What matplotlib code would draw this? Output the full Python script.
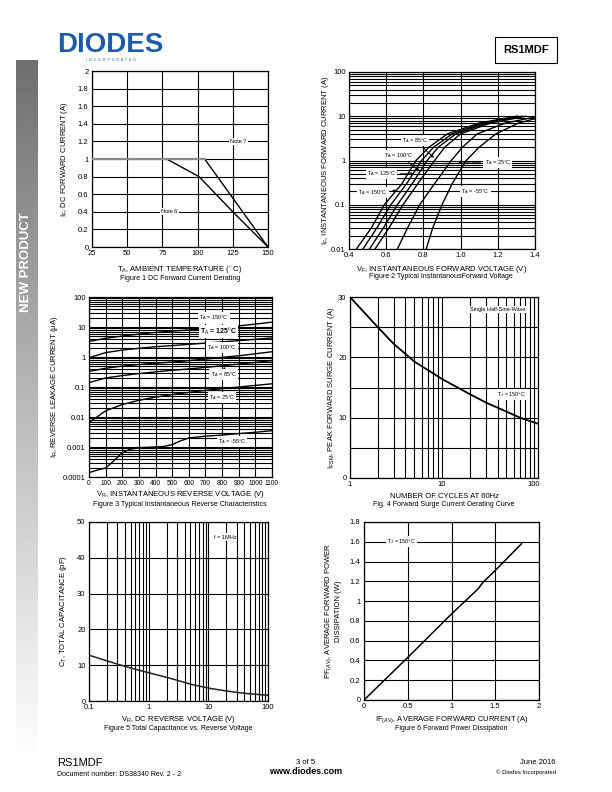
import matplotlib
matplotlib.use('Agg')
import matplotlib.pyplot as plt
import matplotlib.ticker as ticker
import numpy as np

plt.rcParams.update({
  'font.family'      : ['Liberation Sans', 'DejaVu Sans'],
  'font.size'        : 5.5,
  'mathtext.fontset' : 'custom',
  'mathtext.rm'      : 'Liberation Sans',
  'mathtext.it'      : 'Liberation Sans',
  'axes.linewidth'   : 0.9,
  'xtick.major.size' : 0,
  'ytick.major.size' : 0,
  'xtick.minor.size' : 0,
  'ytick.minor.size' : 0,
  'xtick.major.pad'  : 2.5,
  'ytick.major.pad'  : 2.5,
  'xtick.labelsize'  : 5.5,
  'ytick.labelsize'  : 5.5,
})

# ---- Figure 1 : DC forward current derating
note6_temp = [25, 78, 101, 125, 150]
note6_curr = [1.0, 1.0, 0.8, 0.4, 0.0]
note7_temp = [25, 105, 150]
note7_curr = [1.0, 1.0, 0.0]

# ---- Figure 2 : forward characteristics (A vs V)
if_pts  = [0.01, 0.03, 0.1, 0.3, 1, 2, 4, 7, 10]
vf_150  = [0.44, 0.52, 0.59, 0.685, 0.76, 0.83, 0.93, 1.10, 1.30]
vf_125  = [0.475, 0.55, 0.625, 0.71, 0.79, 0.855, 0.955, 1.12, 1.31]
vf_100  = [0.51, 0.585, 0.66, 0.74, 0.82, 0.88, 0.975, 1.14, 1.33]
vf_85   = [0.54, 0.615, 0.69, 0.77, 0.86, 0.915, 1.00, 1.16, 1.35]
vf_25   = [0.66, 0.715, 0.78, 0.86, 0.95, 1.01, 1.09, 1.24, 1.42]
vf_m55  = [0.815, 0.85, 0.90, 0.955, 1.03, 1.10, 1.19, 1.31, 1.45]

# ---- Figure 3 : reverse leakage (uA vs V)
vr_pts  = [0, 100, 200, 300, 400, 500, 600, 700, 800, 900, 1000, 1100]
ir_150  = [3.3, 4.2, 5.0, 5.8, 6.6, 7.3, 8.0, 8.8, 9.7, 10.9, 12.5, 14.5]
ir_125  = [0.95, 1.4, 1.7, 1.95, 2.2, 2.4, 2.65, 2.9, 3.2, 3.5, 3.9, 4.3]
ir_100  = [0.33, 0.42, 0.5, 0.56, 0.62, 0.68, 0.76, 0.85, 0.97, 1.1, 1.28, 1.5]
ir_85   = [0.14, 0.2, 0.24, 0.28, 0.32, 0.36, 0.4, 0.45, 0.51, 0.58, 0.66, 0.76]
ir_25   = [0.0065, 0.016, 0.026, 0.036, 0.046, 0.056, 0.066, 0.077, 0.088, 0.1, 0.113, 0.128]
vr_m55  = [0, 50, 100, 150, 200, 250, 300, 400, 450, 500, 550, 600, 700, 800, 900, 1000, 1100]
ir_m55  = [0.00014, 0.00017, 0.0002, 0.00035, 0.00065, 0.00085, 0.00095, 0.001, 0.00105,
           0.0012, 0.0016, 0.002, 0.0023, 0.0025, 0.0028, 0.0031, 0.0035]

# ---- Figure 4 : surge current derating
cycles   = [1, 2, 3, 5, 10, 20, 30, 50, 70, 100, 110]
ifsm     = [30, 25, 22.2, 19.3, 16.4, 13.9, 12.5, 11.0, 10.0, 9.2, 9.0]

# ---- Figure 5 : capacitance
vr_cap   = [0.1, 0.2, 0.3, 0.5, 1, 2, 3, 5, 10, 20, 30, 50, 100]
cap_pf   = [12.8, 11.2, 10.3, 9.2, 7.9, 6.6, 5.8, 4.7, 3.6, 2.8, 2.4, 2.0, 1.6]

# ---- Figure 6 : power dissipation
if_av    = [0, 0.5, 1.0, 1.3, 1.36, 1.5, 1.8]
pf_av    = [0, 0.43, 0.87, 1.12, 1.19, 1.31, 1.58]

W, H = 612, 792
fig = plt.figure(figsize=(W/100, H/100), dpi=100)

def px_axes(l, t, r, b):
  return fig.add_axes([l/W, 1 - b/H, (r - l)/W, (b - t)/H])

def ftext(x, y, s, **kw):
  fig.text(x/W, 1 - y/H, s, **kw)

box = dict(facecolor='white', edgecolor='none', pad=0.8)
gkw = dict(color='k', linewidth=0.8)

# side bar gradient
axg = px_axes(16, 60, 37, 752)
grad = np.linspace(0.35, 0.99, 300) ** 0.8
axg.imshow(grad[:, None], cmap='gray', vmin=0, vmax=1, aspect='auto')
axg.axis('off')
ftext(26.5, 262, 'NEW PRODUCT', rotation=90, color='white', fontsize=9.5,
      weight='bold', ha='center', va='center')

# header
ftext(57, 45, 'DIODES', fontsize=20, weight='bold', color='#1d5ba8',
      ha='left', va='center')
ftext(111, 60, 'I  N  C  O  R  P  O  R  A  T  E  D', fontsize=2.6, color='#1d5ba8',
      ha='center', va='center')
ftext(526, 50, 'RS1MDF', fontsize=8, weight='bold', ha='center', va='center',
      bbox=dict(facecolor='white', edgecolor='black', linewidth=0.8, boxstyle='square,pad=0.7'))

# ---------------- Figure 1
ax1 = px_axes(92, 71, 268, 247)
ax1.plot(note6_temp, note6_curr, color='k', lw=1.0, zorder=3)
ax1.plot(note7_temp, note7_curr, color='k', lw=1.0, zorder=3)
ax1.plot(note7_temp[:2], note7_curr[:2], color='#8a8a8a', lw=1.6, zorder=4)
ax1.set_xlim(25, 150)
ax1.set_ylim(0, 2)
ax1.set_xticks([25, 50, 75, 100, 125, 150])
ax1.set_yticks(np.arange(0, 2.01, 0.2))
ax1.set_yticklabels(['0', '0.2', '0.4', '0.6', '0.8', '1', '1.2', '1.4', '1.6', '1.8', '2'])
ax1.grid(True, **gkw)
ax1.text(129, 1.2, 'Note 7', fontsize=4, ha='center', va='center', bbox=box, zorder=5)
ax1.text(80, 0.4, 'Note 6', fontsize=4, ha='center', va='center', bbox=box, zorder=5)
ax1.set_xlabel(r'T$_{\mathrm{A}}$, AMBIENT TEMPERATURE ($^\circ$C)', labelpad=5)
ax1.set_ylabel(r'I$_{\mathrm{F}}$, DC FORWARD CURRENT (A)', labelpad=6)
ftext(180, 278, 'Figure 1 DC Forward Current Derating', ha='center', va='center', fontsize=5)

# ---------------- Figure 2
ax2 = px_axes(349, 72, 535, 249)
for v in [vf_150, vf_125, vf_100, vf_85, vf_25, vf_m55]:
  ax2.plot(v, if_pts, color='k', lw=1.0, zorder=3)
ax2.set_yscale('log')
ax2.set_xlim(0.4, 1.4)
ax2.set_ylim(0.01, 100)
ax2.set_xticks([0.4, 0.6, 0.8, 1.0, 1.2, 1.4])
ax2.set_yticks([0.01, 0.1, 1, 10, 100])
ax2.set_yticklabels(['0.01', '0.1', '1', '10', '100'])
ax2.yaxis.set_minor_locator(ticker.LogLocator(base=10, subs=range(2, 10)))
ax2.yaxis.set_minor_formatter(ticker.NullFormatter())
ax2.grid(True, which='major', **gkw)
ax2.grid(True, which='minor', axis='y', **gkw)
akw = dict(arrowstyle='-|>', color='k', lw=0.7, mutation_scale=4)
ax2.annotate(r'T$_{\mathrm{A}}$ = 85$\degree$C', xy=(0.868, 1.05), xytext=(0.755, 2.85),
             fontsize=4, ha='center', va='center', bbox=box, arrowprops=akw, zorder=5)
ax2.annotate(r'T$_{\mathrm{A}}$ = 100$\degree$C', xy=(0.79, 0.56), xytext=(0.665, 1.3),
             fontsize=4, ha='center', va='center', bbox=box, arrowprops=akw, zorder=5)
ax2.annotate(r'T$_{\mathrm{A}}$ = 125$\degree$C', xy=(0.765, 0.5), xytext=(0.575, 0.5),
             fontsize=4, ha='center', va='center', bbox=box, arrowprops=akw, zorder=5)
ax2.annotate(r'T$_{\mathrm{A}}$ = 150$\degree$C', xy=(0.674, 0.21), xytext=(0.53, 0.19),
             fontsize=4, ha='center', va='center', bbox=box, arrowprops=akw, zorder=5)
ax2.annotate(r'T$_{\mathrm{A}}$ = 25$\degree$C', xy=(0.97, 0.93), xytext=(1.2, 0.91),
             fontsize=4, ha='center', va='center', bbox=box, arrowprops=akw, zorder=5)
ax2.text(1.08, 0.2, r'T$_{\mathrm{A}}$ = -55$\degree$C', fontsize=4, ha='center', va='center',
         bbox=box, zorder=5)
ax2.set_xlabel(r'V$_{\mathrm{F}}$, INSTANTANEOUS FORWARD VOLTAGE (V)', labelpad=3)
ax2.set_ylabel(r'I$_{\mathrm{F}}$, INSTANTANEOUS FORWARD CURRENT (A)', labelpad=0)
ftext(441, 277, 'Figure 2 Typical InstantanousForward Voltage', ha='center', va='center', fontsize=5)

# ---------------- Figure 3
ax3 = px_axes(89, 297, 272, 477)
for ir in [ir_150, ir_125, ir_100, ir_85, ir_25]:
  ax3.plot(vr_pts, ir, color='k', lw=1.0, zorder=3)
ax3.plot(vr_m55, ir_m55, color='k', lw=1.0, zorder=3)
ax3.set_yscale('log')
ax3.set_xlim(0, 1100)
ax3.set_ylim(0.0001, 100)
ax3.set_xticks(range(0, 1101, 100))
ax3.tick_params(axis='x', labelsize=4.8)
ax3.set_yticks([0.0001, 0.001, 0.01, 0.1, 1, 10, 100])
ax3.set_yticklabels(['0.0001', '0.001', '0.01', '0.1', '1', '10', '100'])
ax3.yaxis.set_minor_locator(ticker.LogLocator(base=10, subs=range(2, 10)))
ax3.yaxis.set_minor_formatter(ticker.NullFormatter())
ax3.grid(True, which='major', **gkw)
ax3.grid(True, which='minor', axis='y', **gkw)
ax3.text(750, 20, r'T$_{\mathrm{A}}$ = 150$\degree$C', fontsize=4, ha='center', va='center', bbox=box, zorder=5)
ax3.text(780, 7.1, r'T$_{\mathrm{A}}$ = 125$\degree$C', fontsize=5, weight='bold', ha='center', va='center', bbox=box, zorder=5)
ax3.text(800, 2.1, r'T$_{\mathrm{A}}$ = 100$\degree$C', fontsize=4, ha='center', va='center', bbox=box, zorder=5)
ax3.annotate(r'T$_{\mathrm{A}}$ = 85$\degree$C', xy=(815, 0.47), xytext=(810, 0.26),
             fontsize=4, ha='center', va='center', bbox=box, arrowprops=akw, zorder=5)
ax3.text(800, 0.045, r'T$_{\mathrm{A}}$ = 25$\degree$C', fontsize=4, ha='center', va='center', bbox=box, zorder=5)
ax3.text(860, 0.0015, r'T$_{\mathrm{A}}$ = -55$\degree$C', fontsize=4, ha='center', va='center', bbox=box, zorder=5)
ax3.set_xlabel(r'V$_{\mathrm{R}}$, INSTANTANEOUS REVERSE VOLTAGE (V)', labelpad=1)
ax3.set_ylabel(r'I$_{\mathrm{R}}$, REVERSE LEAKAGE CURRENT ($\mu$A)', labelpad=2)
ftext(180, 504, 'Figure 3 Typical Instantaneous Reverse Characteristics', ha='center', va='center', fontsize=5)

# ---------------- Figure 4
ax4 = px_axes(350, 297, 538, 478)
ax4.plot(cycles, ifsm, color='k', lw=1.3, zorder=3)
ax4.set_xscale('log')
ax4.set_xlim(1, 110)
ax4.set_ylim(0, 30)
ax4.set_xticks([1, 10, 100])
ax4.set_xticklabels(['1', '10', '100'])
ax4.xaxis.set_minor_locator(ticker.LogLocator(base=10, subs=range(2, 10)))
ax4.xaxis.set_minor_formatter(ticker.NullFormatter())
ax4.set_yticks([0, 10, 20, 30])
ax4.yaxis.set_minor_locator(ticker.MultipleLocator(5))
ax4.grid(True, which='both', **gkw)
ax4.text(40, 27.9, 'Single Half-Sine-Wave', fontsize=4, ha='center', va='center', bbox=box, zorder=5)
ax4.text(56, 13.8, r'T$_{\mathrm{J}}$ = 150$\degree$C', fontsize=4, ha='center', va='center', bbox=box, zorder=5)
ax4.set_xlabel('NUMBER OF CYCLES AT 60Hz', labelpad=3)
ax4.set_ylabel(r'I$_{\mathrm{FSM}}$, PEAK FORWARD SURGE CURRENT (A)', labelpad=1)
ftext(444, 504, 'Fig. 4 Forward Surge Current Derating Curve', ha='center', va='center', fontsize=5)

# ---------------- Figure 5
ax5 = px_axes(89, 522, 268, 701)
ax5.plot(vr_cap, cap_pf, color='#222222', lw=1.1, zorder=3)
ax5.set_xscale('log')
ax5.set_xlim(0.1, 100)
ax5.set_ylim(0, 50)
ax5.set_xticks([0.1, 1, 10, 100])
ax5.set_xticklabels(['0.1', '1', '10', '100'])
ax5.xaxis.set_minor_locator(ticker.LogLocator(base=10, subs=range(2, 10)))
ax5.xaxis.set_minor_formatter(ticker.NullFormatter())
ax5.set_yticks([0, 10, 20, 30, 40, 50])
ax5.grid(True, which='both', **gkw)
ax5.text(19, 45.8, 'f = 1MHz', fontsize=4, ha='center', va='center', bbox=box, zorder=5)
ax5.set_xlabel(r'V$_{\mathrm{R}}$, DC REVERSE VOLTAGE (V)', labelpad=1.5)
ax5.set_ylabel(r'C$_{\mathrm{T}}$, TOTAL CAPACITANCE (pF)', labelpad=6)
ftext(178, 729, 'Figure 5 Total Capacitance vs. Reverse Voltage', ha='center', va='center', fontsize=5)

# ---------------- Figure 6
ax6 = px_axes(364, 522, 539, 700)
ax6.plot(if_av, pf_av, color='k', lw=1.1, zorder=3)
ax6.set_xlim(0, 2)
ax6.set_ylim(0, 1.8)
ax6.set_xticks([0, 0.5, 1, 1.5, 2])
ax6.set_xticklabels(['0', '0.5', '1', '1.5', '2'])
ax6.set_yticks(np.arange(0, 1.81, 0.2))
ax6.set_yticklabels(['0', '0.2', '0.4', '0.6', '0.8', '1', '1.2', '1.4', '1.6', '1.8'])
ax6.grid(True, **gkw)
ax6.text(0.43, 1.6, r'T$_{\mathrm{J}}$ = 150$\degree$C', fontsize=4, ha='center', va='center', bbox=box, zorder=5)
ax6.set_xlabel(r'IF$_{\mathrm{(AV)}}$, AVERAGE FORWARD CURRENT (A)', labelpad=3)
ax6.set_ylabel('PF$_{\\mathrm{(AV)}}$, AVERAGE FORWARD POWER\nDISSIPATION (W)', labelpad=6)
ftext(451, 729, 'Figure 6 Forward Power Dissipation', ha='center', va='center', fontsize=5)

# footer
ftext(57, 763, 'RS1MDF', fontsize=8, ha='left', va='center')
ftext(57, 774, 'Document number: DS38340 Rev. 2 - 2', fontsize=5, ha='left', va='center')
ftext(306, 762, '3 of 5', fontsize=5.5, ha='center', va='center')
ftext(306, 772, 'www.diodes.com', fontsize=6.5, weight='bold', ha='center', va='center')
ftext(556, 762, 'June 2016', fontsize=5.5, ha='right', va='center')
ftext(556, 772, '\u00a9 Diodes Incorporated', fontsize=4.3, ha='right', va='center')

plt.savefig('out.png', dpi=100)
